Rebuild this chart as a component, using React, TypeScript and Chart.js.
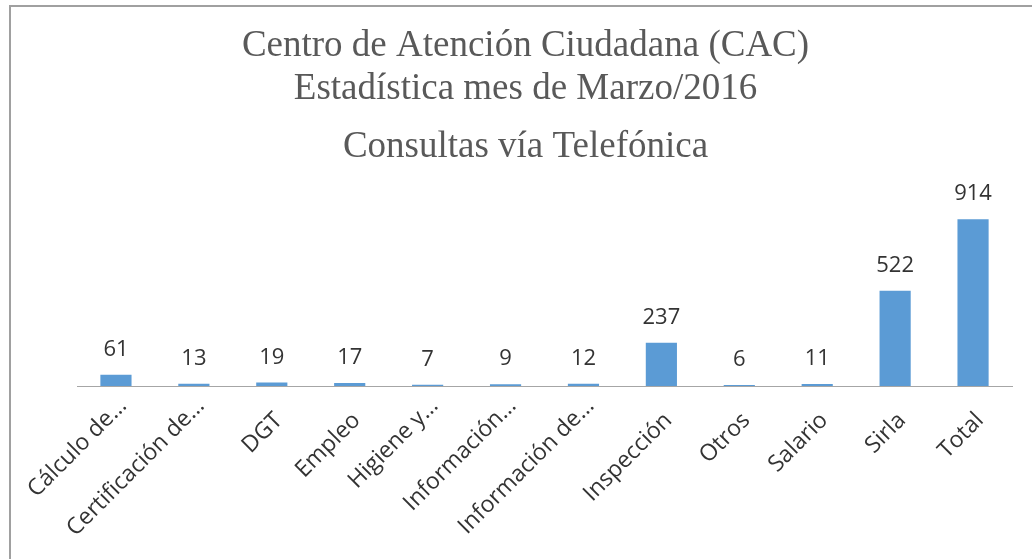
import React, { useEffect, useRef } from "react";
import { Chart, registerables } from "chart.js";

Chart.register(...registerables);

const titleLines = ["Centro de Atención Ciudadana (CAC)", "Estadística mes de Marzo/2016"];
const subtitleText = "Consultas vía Telefónica";
const categories = [
  "Cálculo de…",
  "Certificación de…",
  "DGT",
  "Empleo",
  "Higiene y…",
  "Información…",
  "Información de…",
  "Inspección",
  "Otros",
  "Salario",
  "Sirla",
  "Total",
];
const values = [61, 13, 19, 17, 7, 9, 12, 237, 6, 11, 522, 914];

const isTruncated = (i: number) => String(categories[i] ?? "").endsWith("…");

const barLabels = {
  id: "barLabels",
  afterDatasetsDraw(chart: any) {
    const ctx = chart.ctx;
    const meta = chart.getDatasetMeta(0);
    const data = chart.data.datasets[0].data;
    ctx.save();
    ctx.font = "22px 'Open Sans'";
    ctx.fillStyle = "#333333";
    ctx.textAlign = "center";
    ctx.textBaseline = "alphabetic";
    meta.data.forEach((bar: any, i: number) => {
      ctx.fillText(String(data[i]), bar.x, bar.y - 19);
    });
    ctx.restore();
  },
};

export default function App() {
  const ref = useRef<HTMLCanvasElement>(null);
  useEffect(() => {
    if (!ref.current) return;
    const chart = new Chart(ref.current, {
      type: "bar",
      data: {
        labels: categories,
        datasets: [
          {
            data: values,
            backgroundColor: "#5b9bd5",
            borderWidth: 0,
            categoryPercentage: 1,
            barPercentage: 0.4,
          },
        ],
      },
      options: {
        responsive: false,
        animation: false,
        layout: { padding: { left: 39, right: 20, top: 0, bottom: 0 } },
        plugins: {
          legend: { display: false },
          tooltip: { enabled: false },
          title: {
            display: true,
            text: titleLines,
            color: "#595959",
            font: { family: "'Liberation Serif', serif", size: 37, weight: "normal", lineHeight: 43 / 37 },
            padding: { top: 25, bottom: 0 },
          },
          subtitle: {
            display: true,
            text: subtitleText,
            color: "#595959",
            font: { family: "'Liberation Serif', serif", size: 37, weight: "normal", lineHeight: 43 / 37 },
            padding: { top: 14.5, bottom: 35 },
          },
        },
        scales: {
          x: {
            grid: { display: false, drawTicks: false },
            border: { display: true, color: "#a6a6a6", width: 1 },
            ticks: {
              color: "#333333",
              font: (c: any) => ({
                family: "'Open Sans'",
                size: 23,
                lineHeight: isTruncated(c.index) ? 26.4 / 23 : 67.4 / 23,
              }),
              maxRotation: 45,
              minRotation: 45,
              autoSkip: false,
              padding: 7,
              labelOffset: 7,
            },
            afterFit: (scale: any) => {
              scale.height = 173;
            },
          },
          y: {
            display: true,
            min: 0,
            max: 1000,
            grid: { display: false, drawTicks: false },
            border: { display: false },
            ticks: { display: false },
            afterFit: (scale: any) => {
              scale.width = 38;
            },
          },
        },
      },
      plugins: [barLabels],
    });
    return () => chart.destroy();
  }, []);

  return (
    <div style={{ position: "fixed", left: 0, top: 0, width: 1032, height: 559, overflow: "hidden", background: "#fff" }}>
      <div
        style={{
          position: "absolute",
          left: 9,
          top: 5,
          width: 1100,
          height: 700,
          borderLeft: "2px solid #a0a0a0",
          borderTop: "2px solid #a0a0a0",
        }}
      />
      <canvas ref={ref} width={1032} height={559} style={{ position: "absolute", left: 0, top: 0 }} />
    </div>
  );
}
